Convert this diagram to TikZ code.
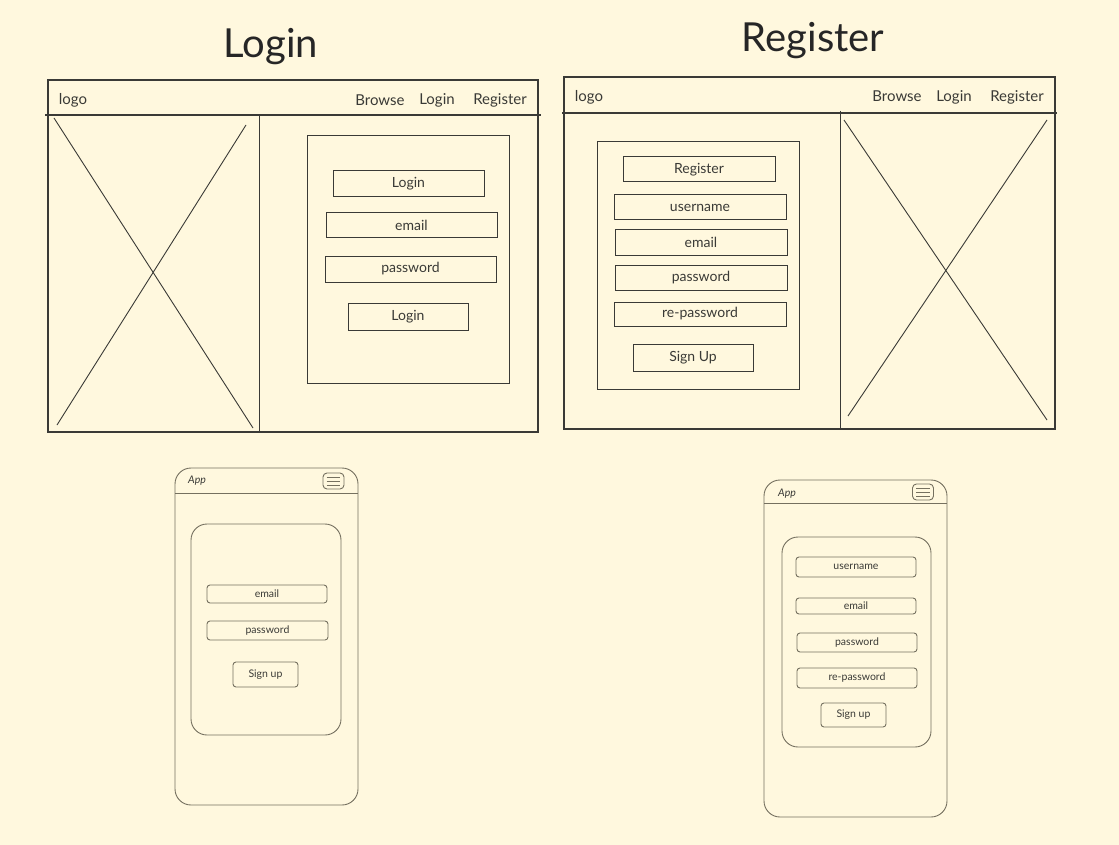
\documentclass[tikz,border=0pt]{standalone}
\usepackage{fontspec}
\setmainfont{Lato}
\definecolor{bg}{HTML}{FFF8DE}
\definecolor{ink}{HTML}{3A3A36}
\definecolor{soft}{HTML}{75705F}
\begin{document}
\begin{tikzpicture}[x=1pt,y=-1pt,
  frame/.style={draw=ink,line width=1.1pt},
  thin/.style={draw=ink,line width=0.9pt},
  field/.style={draw=ink,line width=1pt,rectangle,inner sep=0pt,font=\fontsize{14}{14}\selectfont,text=ink},
  mfield/.style={draw=soft,line width=0.9pt,rectangle,rounded corners=3pt,inner sep=0pt,font=\fontsize{10.5}{10.5}\selectfont,text=ink},
  mframe/.style={draw=soft,line width=0.9pt},
  navtext/.style={font=\fontsize{15}{15}\selectfont,text=ink,inner sep=0pt},
  title/.style={font=\fontsize{40}{40}\selectfont,text=black!85,inner sep=0pt}]
\fill[bg] (0,0) rectangle (1119,845);
\useasboundingbox (0,0) rectangle (1119,845);

% ---------- Titles ----------
\node[title] (tLogin) at (271,47) {Login};
\node[title] (tRegister) at (813,41) {Register};

% ---------- Desktop login ----------
\draw[frame] (48,80) rectangle (538,432);
\draw[frame] (45,115) -- (541,115);
\draw[thin] (259,115) -- (259,432);
\draw[thin] (54,118) -- (253,428);
\draw[thin] (246,125) -- (57,425);
\draw[thin] (307,135) rectangle (509,383);
\node[navtext] (lLogo) at (73,100) {logo};
\node[navtext] (lBrowse) at (380,100) {Browse};
\node[navtext] (lLoginNav) at (437,100) {Login};
\node[navtext] (lRegNav) at (500,100) {Register};
\node[field,minimum width=151pt,minimum height=26pt] (lHead) at (408.5,184) {Login};
\node[field,minimum width=171pt,minimum height=25pt] (lEmail) at (411.5,225.5) {email};
\node[field,minimum width=171pt,minimum height=26pt] (lPass) at (410.5,269) {password};
\node[field,minimum width=120pt,minimum height=27pt] (lBtn) at (408,316.5) {Login};

% ---------- Desktop register ----------
\draw[frame] (564,77) rectangle (1055,429);
\draw[frame] (562,113) -- (1057,113);
\draw[thin] (840,111) -- (840,429);
\draw[thin] (844,120) -- (1047,420);
\draw[thin] (1047,120) -- (848,416);
\draw[thin] (597,141) rectangle (799,389);
\node[navtext] (rLogo) at (589,97) {logo};
\node[navtext] (rBrowse) at (897,96) {Browse};
\node[navtext] (rLoginNav) at (954,97) {Login};
\node[navtext] (rRegNav) at (1017,97) {Register};
\node[field,minimum width=152pt,minimum height=25pt] (rHead) at (699,169.5) {Register};
\node[field,minimum width=172pt,minimum height=25pt] (rUser) at (700,207.5) {username};
\node[field,minimum width=172pt,minimum height=25pt] (rEmail) at (701,242.5) {email};
\node[field,minimum width=172pt,minimum height=25pt] (rPass) at (701,277.5) {password};
\node[field,minimum width=172pt,minimum height=24pt] (rRepass) at (700,314) {re-password};
\node[field,minimum width=120pt,minimum height=27pt] (rSign) at (693,357.5) {Sign Up};

% ---------- Mobile login ----------
\draw[mframe,rounded corners=16pt] (175,468) rectangle (358,805);
\draw[mframe] (175,493) -- (358,493);
\node[font=\fontsize{10.5}{10.5}\selectfont\itshape,text=ink,inner sep=0pt] (mlApp) at (197,481) {App};
\node[draw=soft,line width=0.9pt,rounded corners=4pt,minimum width=21pt,minimum height=16pt,inner sep=0pt] (mlMenu) at (333.5,481) {};
\draw[soft,line width=0.7pt] ([xshift=4pt,yshift=-4pt]mlMenu.west) -- ([xshift=-4pt,yshift=-4pt]mlMenu.east)
  ([xshift=4pt]mlMenu.west) -- ([xshift=-4pt]mlMenu.east)
  ([xshift=4pt,yshift=4pt]mlMenu.west) -- ([xshift=-4pt,yshift=4pt]mlMenu.east);
\draw[mframe,rounded corners=16pt] (191,524) rectangle (341,735);
\node[mfield,minimum width=120pt,minimum height=18pt] (mlEmail) at (267,594) {email};
\node[mfield,minimum width=121pt,minimum height=19pt] (mlPass) at (267.5,630.5) {password};
\node[mfield,minimum width=65pt,minimum height=25pt] (mlSign) at (265.5,674.5) {Sign up};

% ---------- Mobile register ----------
\draw[mframe,rounded corners=16pt] (764,480) rectangle (947,817);
\draw[mframe] (764,503) -- (947,503);
\node[font=\fontsize{10.5}{10.5}\selectfont\itshape,text=ink,inner sep=0pt] (mrApp) at (787,494) {App};
\node[draw=soft,line width=0.9pt,rounded corners=4pt,minimum width=21pt,minimum height=16pt,inner sep=0pt] (mrMenu) at (923,492) {};
\draw[soft,line width=0.7pt] ([xshift=4pt,yshift=-4pt]mrMenu.west) -- ([xshift=-4pt,yshift=-4pt]mrMenu.east)
  ([xshift=4pt]mrMenu.west) -- ([xshift=-4pt]mrMenu.east)
  ([xshift=4pt,yshift=4pt]mrMenu.west) -- ([xshift=-4pt,yshift=4pt]mrMenu.east);
\draw[mframe,rounded corners=16pt] (782,537) rectangle (931,747);
\node[mfield,minimum width=120pt,minimum height=20pt] (mrUser) at (856,567) {username};
\node[mfield,minimum width=120pt,minimum height=16pt] (mrEmail) at (856,606) {email};
\node[mfield,minimum width=120pt,minimum height=19pt] (mrPass) at (857,642.5) {password};
\node[mfield,minimum width=120pt,minimum height=20pt] (mrRepass) at (857,678) {re-password};
\node[mfield,minimum width=65pt,minimum height=24pt] (mrSign) at (853.5,715) {Sign up};
\end{tikzpicture}
\end{document}
